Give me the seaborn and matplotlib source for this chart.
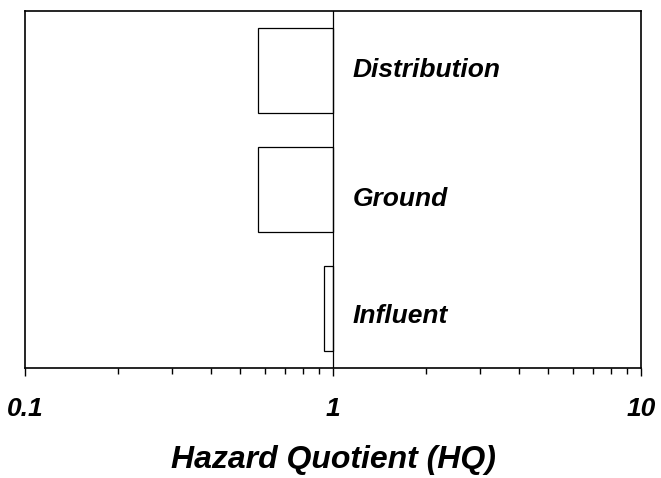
import matplotlib
matplotlib.use("Agg")
import matplotlib.pyplot as plt
import matplotlib.ticker as mticker
import seaborn as sns

# data
categories = ["Distribution", "Ground", "Influent"]
hq_low = [0.57, 0.57, 0.935]
hq_high = [1.0, 1.0, 1.0]
tick_values = [0.1, 1, 10]
tick_labels = ["0.1", "1", "10"]

sns.set_style("white")
plt.rcParams["font.family"] = ["Liberation Sans", "DejaVu Sans"]
plt.rcParams["text.color"] = "black"
plt.rcParams["axes.labelcolor"] = "black"
plt.rcParams["xtick.color"] = "black"

fig, ax = plt.subplots(figsize=(6.61, 4.78), dpi=100)
fig.subplots_adjust(left=0.038, right=0.97, bottom=0.23, top=0.977)

sns.barplot(x=hq_high, y=categories, orient="h", color="white",
            edgecolor="black", linewidth=0.9, width=0.72, ax=ax)

# bars span from the low estimate up to the high one
for patch, lo, hi in zip(ax.patches, hq_low, hq_high):
    patch.set_x(lo)
    patch.set_width(hi - lo)

ax.set_xscale("log")
ax.set_xlim(0.1, 10)
ax.axvline(1, color="black", lw=0.9)

# category names to the right of the HQ=1 line
label_dy = [0.055, 0.135, 0.12]
for i, (name, dy) in enumerate(zip(categories, label_dy)):
    ax.text(1.16, i + dy, name, ha="left", va="baseline", color="black",
            fontsize=19, fontweight="bold", fontstyle="italic")

ax.set_yticks([])
ax.set_ylabel("")
ax.set_xticks(tick_values)
ax.set_xticklabels(tick_labels)
ax.xaxis.set_minor_locator(mticker.LogLocator(base=10, subs=range(2, 10)))
ax.xaxis.set_minor_formatter(mticker.NullFormatter())
ax.tick_params(axis="x", which="both", bottom=True, direction="out",
               width=1, color="black")
ax.tick_params(axis="x", which="major", length=6, pad=15, labelsize=19,
               labelcolor="black")
ax.tick_params(axis="x", which="minor", length=4.5)
for lab in ax.get_xticklabels():
    lab.set_fontweight("bold")
    lab.set_fontstyle("italic")

ax.set_xlabel("Hazard Quotient (HQ)", fontsize=23, fontweight="bold",
              fontstyle="italic", labelpad=17, color="black")

for spine in ax.spines.values():
    spine.set_visible(True)
    spine.set_color("black")
    spine.set_linewidth(1.2)

fig.savefig("out.png", dpi=100)
